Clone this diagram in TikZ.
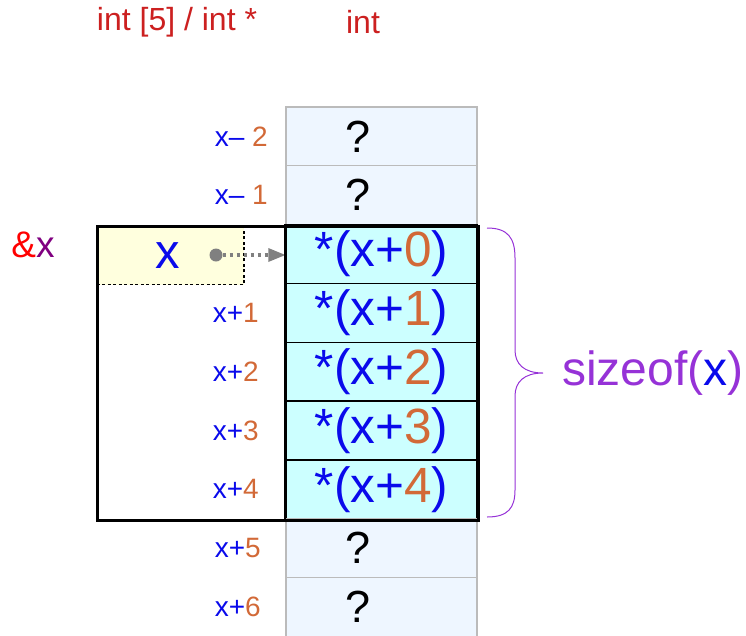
\documentclass[tikz,border=0pt]{standalone}
\usepackage{fontspec}
\setmainfont{Liberation Sans}
\usetikzlibrary{arrows.meta}
\definecolor{hdrred}{RGB}{204,32,32}
\definecolor{dblue}{RGB}{10,10,235}
\definecolor{dorange}{RGB}{210,105,55}
\definecolor{purp}{RGB}{150,50,215}
\definecolor{ampx}{RGB}{128,0,128}
\definecolor{cellcyan}{RGB}{204,255,255}
\definecolor{celllight}{RGB}{238,246,255}
\definecolor{boxyellow}{RGB}{255,255,222}
\definecolor{cellgray}{RGB}{187,187,187}
\newcommand{\fs}[1]{\fontsize{#1}{#1}\selectfont}
\begin{document}
\begin{tikzpicture}[x=1pt,y=-1pt,
  outcell/.style={draw=cellgray,line width=1.2pt,fill=celllight,rectangle,inner sep=0pt,minimum width=191pt,minimum height=58.8pt},
  incell/.style={draw=black,line width=1.4pt,fill=cellcyan,rectangle,inner sep=0pt,minimum width=191pt,minimum height=58.8pt},
  addr/.style={anchor=east,inner sep=0pt,font=\fs{28}},
  qmark/.style={inner sep=0pt,font=\fs{45}},
  deref/.style={inner sep=0pt,font=\fs{49.5},text=dblue},
  hdr/.style={inner sep=0pt,font=\fs{32},text=hdrred}]
\clip (0,0) rectangle (746,635);
% header
\node[hdr] (h1) at (177,22) {int [5] / int *};
\node[hdr] (h2) at (363,22) {int};
% cells
\foreach \i/\s in {0/outcell,1/outcell,2/incell,3/incell,4/incell,5/incell,6/incell,7/outcell,8/outcell}{
  \node[\s] (c\i) at (381.5,{107+58.8*(\i+0.5)}) {};
}
% cell texts
\foreach \i in {0,1,7,8}{
  \node[qmark] (q\i) at ([xshift=-23pt]c\i.center) {?};
}
\foreach \i/\n in {2/0,3/1,4/2,5/3,6/4}{
  \node[deref] (d\i) at (c\i.center) {*(x+\textcolor{dorange}{\n})};
}
% address labels
\node[addr] (a0) at (268,{107+58.8*0.5}) {\textcolor{dblue}{x–}~\textcolor{dorange}{2}};
\node[addr] (a1) at (268,{107+58.8*1.5}) {\textcolor{dblue}{x–}~\textcolor{dorange}{1}};
\foreach \i/\n in {3/1,4/2,5/3,6/4}{
  \node[addr] (a\i) at (259,{107+58.8*(\i+0.5)}) {\textcolor{dblue}{x+}\textcolor{dorange}{\n}};
}
\foreach \i/\n in {7/5,8/6}{
  \node[addr] (a\i) at (261,{107+58.8*(\i+0.5)}) {\textcolor{dblue}{x+}\textcolor{dorange}{\n}};
}
% yellow box
\node[draw=black,dash pattern=on 3pt off 2.5pt,line width=1.6pt,fill=boxyellow,rectangle,inner sep=0pt,
  minimum width=147pt,minimum height=58.8pt,anchor=north west] (xbox) at (96,225) {};
\node[inner sep=0pt,font=\fs{49},text=dblue] (xlab) at (168,256) {x};
\node[circle,fill=gray,inner sep=0pt,minimum size=13pt] (dot) at (216,255) {};
\draw[gray,line width=3.5pt,dash pattern=on 3.5pt off 3.5pt,-{Triangle[length=17pt,width=14pt,line width=0pt]}] (dot) -- (c2.west |- dot);
% thick frame
\node[draw=black,line width=3.2pt,rectangle,inner sep=0pt,minimum width=381pt,minimum height=294pt,anchor=north west] (frame) at (96,225) {};
\draw[black,line width=1.8pt] (c2.north west) -- (c6.south west);
% &x
\node[inner sep=0pt,font=\fs{37}] (amp) at (33,245) {\textcolor{red}{\&}\textcolor{ampx}{x}};
% brace
\draw[purp,line width=1pt] (487,228) .. controls (508,228) and (515,238) .. (515,258) -- (515,350)
  .. controls (515,364) and (524,373) .. (543,373)
  .. controls (524,373) and (515,382) .. (515,396) -- (515,490)
  .. controls (515,508) and (508,517) .. (487,517);
\node[anchor=west,inner sep=0pt,font=\fs{48},text=purp] (sz) at (562,373) {sizeof(\textcolor{dblue}{x})};
\end{tikzpicture}
\end{document}
